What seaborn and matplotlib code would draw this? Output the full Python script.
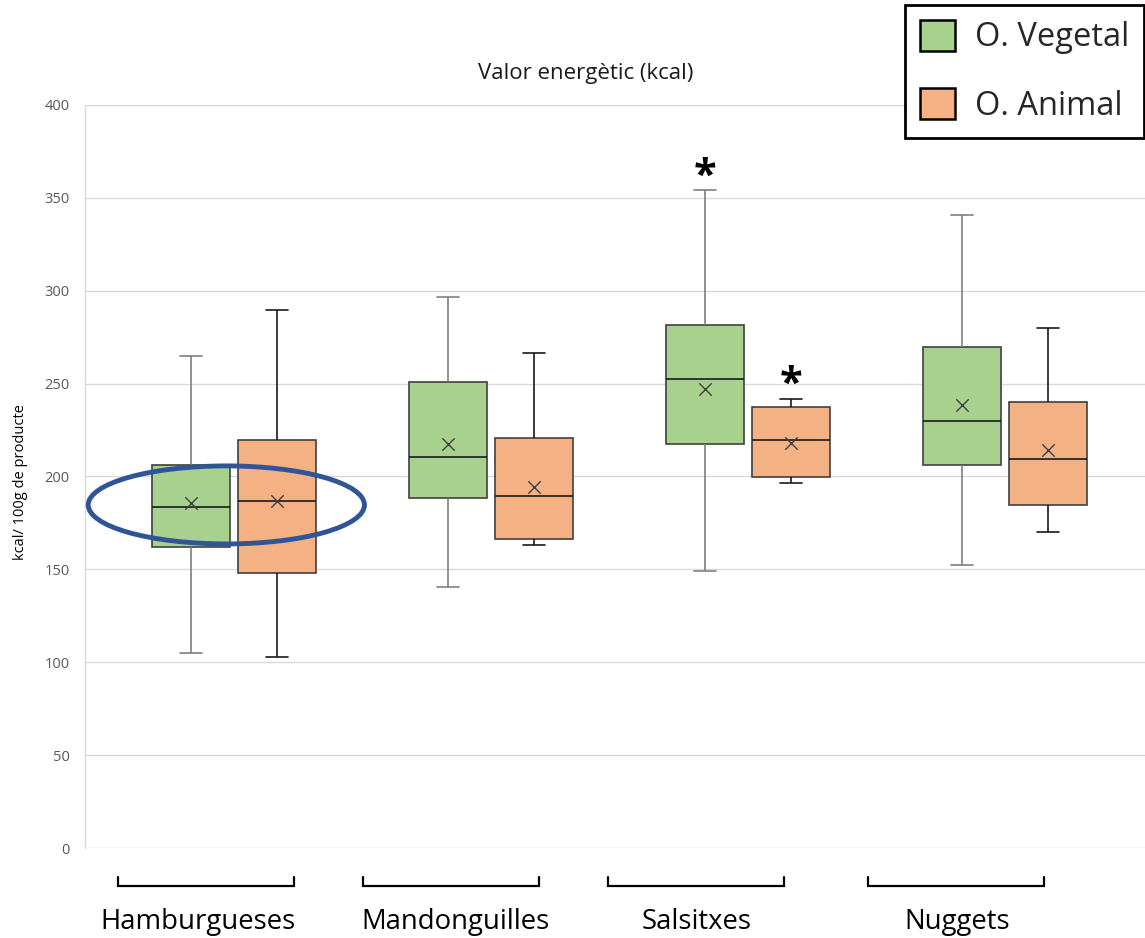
import numpy as np
import pandas as pd
import matplotlib
matplotlib.use("Agg")
import matplotlib.pyplot as plt
import matplotlib.transforms as mtransforms
from matplotlib.patches import Patch, Ellipse
import seaborn as sns

# ---------------- data ----------------
categories = ["Hamburgueses", "Mandonguilles", "Salsitxes", "Nuggets"]
origins = ["O. Vegetal", "O. Animal"]

veg_min = [105.0, 140.5, 149.0, 152.5]
veg_q1 = [162.0, 188.6, 217.5, 206.0]
veg_med = [183.6, 210.3, 252.3, 229.7]
veg_q3 = [206.2, 250.7, 281.4, 269.6]
veg_max = [265.0, 296.5, 354.0, 341.0]
veg_mean = [185.7, 217.3, 247.3, 238.5]

ani_min = [103.0, 163.1, 196.3, 170.3]
ani_q1 = [148.2, 166.4, 199.6, 184.5]
ani_med = [186.6, 189.7, 219.5, 209.3]
ani_q3 = [219.7, 220.6, 237.3, 240.3]
ani_max = [289.6, 266.3, 241.6, 279.8]
ani_mean = [187.0, 194.2, 217.9, 214.3]

veg_signif = [False, False, True, False]
ani_signif = [False, False, True, False]

yticks = [0, 50, 100, 150, 200, 250, 300, 350, 400]

title = "Valor energètic (kcal)"
ylabel = "kcal/ 100g de producte"

# ---------------- build long table ----------------
rows = []
stats = {
    "O. Vegetal": (veg_min, veg_q1, veg_med, veg_q3, veg_max),
    "O. Animal": (ani_min, ani_q1, ani_med, ani_q3, ani_max),
}
for origin, arrs in stats.items():
    for i, cat in enumerate(categories):
        for arr in arrs:
            rows.append({"Categoria": cat, "Origen": origin, "kcal": arr[i]})
df = pd.DataFrame(rows)

means = {"O. Vegetal": veg_mean, "O. Animal": ani_mean}
maxes = {"O. Vegetal": veg_max, "O. Animal": ani_max}
signif = {"O. Vegetal": veg_signif, "O. Animal": ani_signif}

# ---------------- style ----------------
GREEN = "#A9D18E"
ORANGE = "#F4B183"
GRID = "#D9D9D9"
TICKC = "#595959"
sns.set_theme(style="white")
plt.rcParams["font.family"] = ["Open Sans", "DejaVu Sans"]

W, H = 1145, 938
fig = plt.figure(figsize=(W / 100, H / 100), dpi=100)
ax = fig.add_axes([85 / W, 90 / H, 1060 / W, 743 / H])

BOXW = 0.67
GAP = 0.1
sns.boxplot(
    data=df, x="Categoria", y="kcal", hue="Origen",
    order=categories, hue_order=origins,
    palette=[GREEN, ORANGE], width=BOXW, gap=GAP, whis=(0, 100),
    linecolor="#404040", linewidth=1.2, fliersize=0, legend=False,
    saturation=1, ax=ax,
)

# whisker / median colours like the original
for j, cont in enumerate(ax.containers):
    wc = "#7F7F7F" if j == 0 else "#1A1A1A"
    for ln in list(cont.whiskers) + list(cont.caps):
        ln.set_color(wc)
    for ln in cont.medians:
        ln.set_color("#1A1A1A")
        ln.set_linewidth(1.2)
    for ln in cont.caps:
        xd = ln.get_xdata()
        c = np.mean(xd)
        ln.set_xdata([c - 0.043, c + 0.043])

# mean markers (x)
offsets = {"O. Vegetal": -BOXW / 4, "O. Animal": BOXW / 4}
xpos = np.arange(len(categories))
for origin in origins:
    sns.scatterplot(
        x=xpos + offsets[origin], y=means[origin], marker="x", s=80,
        color="#404040", linewidth=1.0, ax=ax, zorder=5, legend=False,
    )
    for i in range(len(categories)):
        if signif[origin][i]:
            ax.annotate("*", xy=(xpos[i] + offsets[origin], maxes[origin][i]),
                        xytext=(0, -5), textcoords="offset points",
                        ha="center", va="bottom", fontsize=30,
                        fontweight="bold", color="black")

# axes cosmetics
ax.set_xlim(-0.58, 3.545)
ax.set_ylim(0, 400)
ax.set_yticks(yticks)
ax.yaxis.grid(True, color=GRID, linewidth=1)
ax.xaxis.grid(False)
ax.set_axisbelow(True)
for s in ["top", "right", "bottom"]:
    ax.spines[s].set_visible(False)
ax.spines["left"].set_color(GRID)
ax.spines["left"].set_linewidth(1)
ax.tick_params(axis="y", length=0, labelcolor=TICKC, labelsize=10.5, pad=11)
ax.tick_params(axis="x", length=0, labelbottom=False)
ax.set_xlabel("")
ax.set_ylabel(ylabel, fontsize=10.5, color="black")
ax.yaxis.set_label_coords((28 - 85) / 1060, (848 - 482) / 743)

# title
fig.text(586 / W, 1 - 73 / H, title, ha="center", va="center", fontsize=16, color="#1A1A1A")

# highlighting ellipse around Hamburgueses medians
ell = Ellipse((-0.03, 184.7), width=1.075, height=42, fill=False,
              edgecolor="#2F5597", linewidth=3.5, zorder=10, clip_on=False)
ax.add_patch(ell)

# category brackets + labels below the axis
trans = mtransforms.blended_transform_factory(ax.transData, ax.transAxes)
bracket_centers = [-0.109, 0.844, 1.798, 2.809]
label_centers = [-0.14, 0.86, 1.80, 2.813]
half = 0.342
for bc, lc, cat in zip(bracket_centers, label_centers, categories):
    ax.plot([bc - half, bc - half, bc + half, bc + half],
            [-0.039, -0.0511, -0.0511, -0.039], transform=trans,
            color="black", linewidth=1.6, clip_on=False, solid_joinstyle="miter")
    ax.text(lc, -0.1, cat, transform=trans, ha="center", va="center",
            fontsize=19.8, color="black")

# legend
handles = [Patch(facecolor=GREEN, edgecolor="black", linewidth=1.8, label=origins[0]),
           Patch(facecolor=ORANGE, edgecolor="black", linewidth=1.8, label=origins[1])]
leg = fig.legend(handles=handles, loc="upper right",
                 bbox_to_anchor=(1144 / W, 1 - 5 / H), frameon=True,
                 fancybox=False, edgecolor="black", fontsize=23.5,
                 handlelength=1.1, handleheight=1.1, labelspacing=1.03,
                 borderpad=0.45, handletextpad=0.6, borderaxespad=0)
leg.get_frame().set_linewidth(2)
leg.get_frame().set_alpha(1)

fig.savefig("out.png", dpi=100, facecolor="white")
